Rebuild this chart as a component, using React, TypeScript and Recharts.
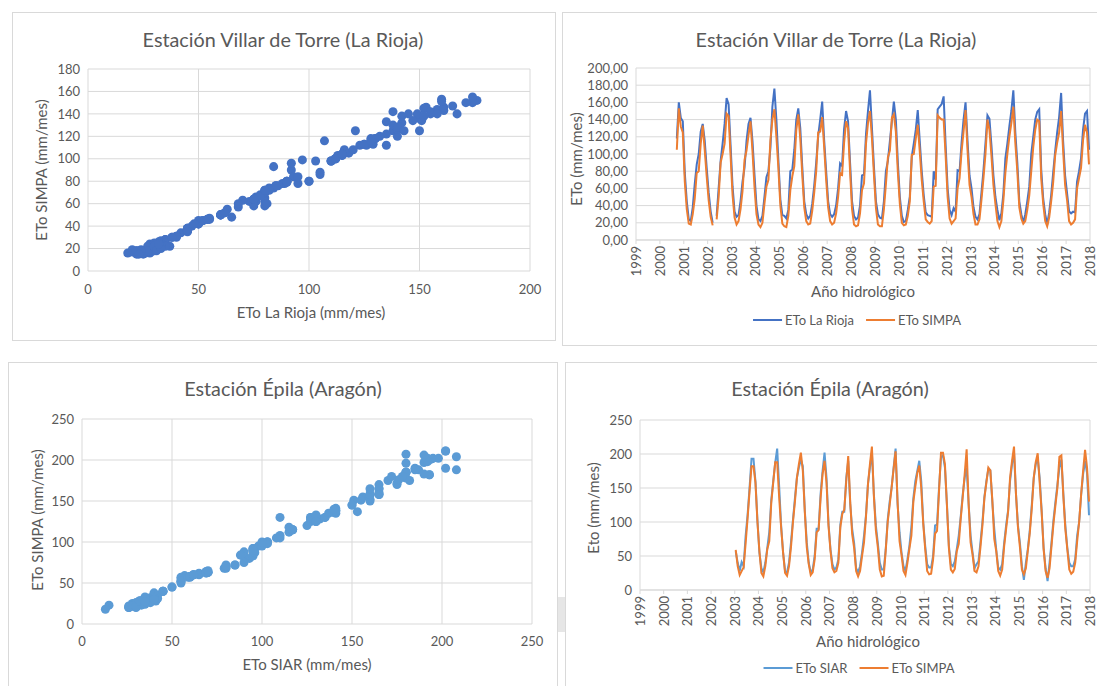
import React from 'react';
import {
  ScatterChart,
  Scatter,
  LineChart,
  Line,
  XAxis,
  YAxis,
  ZAxis,
  CartesianGrid,
  ReferenceLine,
} from 'recharts';

const FONT = 'Lato, "Open Sans", "DejaVu Sans", sans-serif';
const TEXT = '#595959';
const GRID = '#d9d9d9';
const BLUE_DARK = '#4472C4';
const BLUE_LIGHT = '#5B9BD5';
const ORANGE = '#ED7D31';

// Hydrological months: 0 = Oct, 1 = Nov, ... 11 = Sep (plotted at mid-month)
const riojaStart = { year: 2000, month: 8 };
// ETo La Rioja (mm/mes), Jun 2000 .. Sep 2017
const etoLaRioja: (number | null)[] = [
  118, 160, 142, 138,
  78, 45, 24, 22, 38, 65, 88, 100, 126, 135, 116, 84,
  55, 33, 20, null, 28, 60, 92, 112, 135, 165, 158, 110,
  62, 33, 27, 29, 45, 68, 84, 115, 135, 142, 115, 76,
  40, 24, 22, 28, 50, 73, 80, 107, 155, 176, 140, 93,
  47, 29, 28, 25, 35, 80, 82, 105, 140, 153, 130, 85,
  45, 30, 25, 28, 42, 63, 90, 121, 140, 161, 116, 80,
  45, 30, 27, 30, 40, 60, 89, 86, 129, 150, 138, 90,
  45, 28, 24, 26, 40, 75, 76, 123, 150, 174, 130, 85,
  45, 30, 26, 25, 45, 80, 92, 115, 138, 161, 140, 90,
  50, 28, 21, 22, 35, 50, 97, 112, 128, 151, 115, 80,
  52, 32, 29, 28, 27, 80, 70, 152, 155, 158, 167, 110,
  60, 35, 29, 37, 33, 81, 80, 113, 140, 160, 115, 75,
  60, 38, 27, 24, 30, 55, 81, 112, 145, 141, 110, 75,
  50, 35, 23, 31, 54, 95, 112, 132, 150, 174, 125, 90,
  45, 30, 20, 30, 45, 62, 100, 120, 140, 149, 152, 82,
  48, 30, 18, 32, 52, 78, 103, 125, 143, 171, 115, 75,
  54, 33, 31, 33, 32, 68, 80, 95, 128, 147, 150, 105,
];
// ETo SIMPA at Villar de Torre (mm/mes), Jun 2000 .. Sep 2017
const etoSimpaRioja: (number | null)[] = [
  105, 153, 132, 125,
  68, 36, 19, 18, 30, 48, 78, 80, 112, 133, 105, 74,
  46, 27, 17, null, 24, 50, 90, 100, 112, 147, 144, 98,
  52, 26, 18, 22, 36, 57, 93, 104, 122, 138, 103, 62,
  30, 18, 15, 20, 42, 62, 70, 116, 140, 152, 120, 84,
  40, 19, 16, 15, 28, 58, 74, 86, 128, 146, 118, 76,
  38, 22, 18, 19, 34, 55, 80, 125, 126, 143, 108, 70,
  38, 22, 18, 20, 31, 50, 78, 76, 113, 138, 130, 80,
  36, 18, 16, 17, 31, 58, 66, 112, 136, 150, 118, 76,
  37, 18, 16, 16, 36, 65, 96, 104, 142, 146, 126, 79,
  42, 20, 17, 18, 28, 45, 99, 100, 118, 134, 103, 70,
  45, 24, 21, 19, 22, 62, 63, 145, 142, 140, 140, 98,
  50, 25, 19, 22, 25, 60, 72, 103, 126, 151, 104, 64,
  50, 30, 18, 18, 24, 47, 72, 100, 140, 128, 98, 64,
  42, 22, 15, 22, 46, 78, 100, 120, 136, 155, 113, 80,
  38, 25, 19, 22, 35, 52, 80, 108, 128, 140, 138, 72,
  42, 22, 16, 26, 45, 67, 98, 113, 125, 150, 104, 64,
  46, 22, 18, 20, 24, 60, 72, 84, 116, 134, 125, 88,
];

const epilaStart = { year: 2003, month: 0 };
// ETo SIAR Épila (mm/mes), Oct 2002 .. Sep 2017
const etoSiar: (number | null)[] = [
  57, 40, 28, 41, 35, 79, 110, 150, 193, 193, 160, 103,
  55, 32, 26, 40, 62, 85, 132, 160, 187, 208, 153, 95,
  55, 28, 26, 40, 70, 103, 135, 165, 180, 192, 182, 117,
  70, 40, 26, 30, 50, 90, 90, 141, 175, 202, 165, 98,
  60, 38, 30, 33, 45, 96, 115, 115, 165, 190, 127, 90,
  69, 32, 26, 35, 55, 80, 110, 156, 180, 202, 141, 95,
  69, 40, 30, 30, 60, 103, 130, 151, 180, 208, 127, 85,
  55, 35, 28, 45, 65, 93, 135, 160, 175, 190, 160, 100,
  65, 38, 33, 33, 50, 95, 96, 150, 195, 198, 180, 127,
  65, 38, 35, 42, 60, 80, 108, 140, 165, 180, 127, 80,
  55, 32, 38, 42, 70, 100, 137, 160, 178, 176, 130, 90,
  59, 33, 30, 38, 69, 95, 117, 160, 185, 202, 141, 95,
  69, 35, 15, 40, 60, 88, 125, 165, 185, 194, 165, 117,
  62, 32, 13, 40, 70, 103, 130, 155, 180, 192, 141, 95,
  62, 40, 35, 35, 45, 80, 100, 140, 170, 190, 172, 110,
];
// ETo SIMPA at Épila (mm/mes), Oct 2002 .. Sep 2017
const etoSimpaEpila: (number | null)[] = [
  59, 35, 22, 28, 33, 68, 105, 145, 182, 182, 158, 100,
  57, 25, 20, 35, 60, 72, 128, 158, 188, 188, 137, 92,
  55, 25, 21, 35, 63, 100, 130, 165, 185, 202, 175, 115,
  63, 38, 22, 26, 45, 85, 88, 135, 170, 190, 158, 95,
  58, 32, 26, 28, 40, 92, 112, 118, 160, 197, 130, 82,
  62, 28, 20, 28, 50, 70, 108, 155, 185, 211, 138, 88,
  63, 30, 20, 21, 58, 100, 125, 151, 178, 204, 130, 72,
  52, 28, 22, 40, 61, 80, 130, 152, 172, 183, 150, 98,
  60, 28, 23, 24, 45, 83, 87, 145, 202, 202, 185, 125,
  62, 30, 26, 31, 57, 68, 105, 136, 170, 207, 127, 70,
  52, 28, 26, 35, 63, 95, 135, 158, 180, 176, 133, 75,
  57, 28, 21, 30, 64, 90, 115, 165, 190, 211, 141, 92,
  63, 30, 23, 32, 58, 84, 120, 165, 188, 201, 158, 115,
  60, 28, 18, 32, 65, 98, 125, 151, 196, 198, 138, 90,
  60, 30, 24, 27, 40, 72, 100, 140, 175, 206, 180, 130,
];

const yearTicks = [1999, 2000, 2001, 2002, 2003, 2004, 2005, 2006, 2007, 2008, 2009, 2010, 2011, 2012, 2013, 2014, 2015, 2016, 2017, 2018];
const riojaScatterXTicks = [0, 50, 100, 150, 200];
const riojaScatterYTicks = [0, 20, 40, 60, 80, 100, 120, 140, 160, 180];
const epilaScatterTicks = [0, 50, 100, 150, 200, 250];
const riojaLineYTicks = [0, 20, 40, 60, 80, 100, 120, 140, 160, 180, 200];
const epilaLineYTicks = [0, 50, 100, 150, 200, 250];

type Start = { year: number; month: number };
const toSeries = (start: Start, a: (number | null)[], b: (number | null)[]) =>
  a.map((v, i) => ({ t: start.year + (start.month + i + 0.5) / 12, a: v, b: b[i] }));
const toPairs = (a: (number | null)[], b: (number | null)[]) =>
  a
    .map((v, i) => ({ x: v, y: b[i] }))
    .filter((p) => p.x != null && p.y != null);

const riojaSeries = toSeries(riojaStart, etoLaRioja, etoSimpaRioja);
const epilaSeries = toSeries(epilaStart, etoSiar, etoSimpaEpila);
const riojaPairs = toPairs(etoLaRioja, etoSimpaRioja);
const epilaPairs = toPairs(etoSiar, etoSimpaEpila);

const TICK_FS = 13;
const tickStyle = { fill: TEXT, fontSize: TICK_FS, fontFamily: FONT };
const comma2 = (v: number) => v.toFixed(2).replace('.', ',');

const RotTick = (props: any) => {
  const { x, y, payload } = props;
  return (
    <text
      x={x}
      y={y}
      transform={`rotate(-90, ${x}, ${y})`}
      textAnchor="end"
      dominantBaseline="central"
      fill={TEXT}
      fontSize={TICK_FS}
      fontFamily={FONT}
    >
      {payload.value}
    </text>
  );
};

const Txt = ({ x, y, size, children, rotate }: any) => (
  <div
    style={{
      position: 'absolute',
      left: x,
      top: y,
      transform: `translate(-50%, -50%)${rotate ? ' rotate(-90deg)' : ''}`,
      whiteSpace: 'nowrap',
      fontSize: size,
      color: TEXT,
      fontFamily: FONT,
      lineHeight: 1,
    }}
  >
    {children}
  </div>
);

const Box = ({ x, y, w, h }: any) => (
  <div
    style={{
      position: 'absolute',
      left: x,
      top: y,
      width: w,
      height: h,
      border: `1px solid ${GRID}`,
      boxSizing: 'border-box',
      background: '#fff',
    }}
  />
);

const LegendItem = ({ color, label }: any) => (
  <div style={{ display: 'flex', alignItems: 'center', marginRight: 12 }}>
    <div style={{ width: 29, height: 2, background: color, marginRight: 3 }} />
    <span style={{ fontSize: 13, color: TEXT, fontFamily: FONT }}>{label}</span>
  </div>
);

const Legend2 = ({ x, y, items }: any) => (
  <div
    style={{
      position: 'absolute',
      left: x,
      top: y,
      transform: 'translate(-50%, -50%)',
      display: 'flex',
      whiteSpace: 'nowrap',
    }}
  >
    {items.map((it: any) => (
      <LegendItem key={it.label} color={it.color} label={it.label} />
    ))}
  </div>
);

export default function App() {
  return (
    <div
      style={{
        position: 'absolute',
        left: 0,
        top: 0,
        width: 1097,
        height: 686,
        background: '#fff',
        overflow: 'hidden',
        fontFamily: FONT,
      }}
    >
      <Box x={12} y={12} w={544} h={329} />
      <Box x={562} y={12} w={545} h={334} />
      <Box x={8} y={362} w={550} h={340} />
      <Box x={565} y={362} w={545} h={340} />
      <div style={{ position: 'absolute', left: 558, top: 597, width: 7, height: 35, background: '#e6e6e6' }} />

      {/* Top-left scatter */}
      <div style={{ position: 'absolute', left: 12, top: 12 }}>
        <ScatterChart width={543} height={328} margin={{ top: 57, right: 25, bottom: 29, left: 0 }}>
          <CartesianGrid stroke={GRID} strokeWidth={1} />
          <XAxis
            type="number"
            dataKey="x"
            domain={[0, 200]}
            ticks={riojaScatterXTicks}
            axisLine={false}
            tickLine={false}
            tickSize={0}
            tickMargin={14}
            height={40}
            tick={tickStyle}
            interval={0}
          />
          <YAxis
            type="number"
            dataKey="y"
            domain={[0, 180]}
            ticks={riojaScatterYTicks}
            axisLine={false}
            tickLine={false}
            tickSize={0}
            tickMargin={8}
            width={76}
            tick={tickStyle}
            interval={0}
          />
          <ZAxis range={[80, 80]} />
          <Scatter data={riojaPairs} fill={BLUE_DARK} isAnimationActive={false} />
        </ScatterChart>
      </div>

      {/* Top-right line chart */}
      <div style={{ position: 'absolute', left: 562, top: 12 }}>
        <LineChart width={535} height={333} data={riojaSeries} margin={{ top: 56, right: 7, bottom: 45, left: 0 }}>
          <CartesianGrid stroke={GRID} vertical={false} />
          <ReferenceLine x={1999} stroke={GRID} />
          <ReferenceLine x={2018} stroke={GRID} />
          <XAxis
            type="number"
            dataKey="t"
            domain={[1999, 2018]}
            ticks={yearTicks}
            interval={0}
            axisLine={{ stroke: GRID }}
            tickLine={{ stroke: GRID }}
            tickSize={4}
            tickMargin={2}
            height={60}
            tick={<RotTick />}
          />
          <YAxis
            type="number"
            domain={[0, 200]}
            ticks={riojaLineYTicks}
            interval={0}
            axisLine={false}
            tickLine={false}
            tickSize={0}
            tickMargin={8}
            width={74}
            tick={tickStyle}
            tickFormatter={comma2}
          />
          <Line dataKey="a" stroke={BLUE_DARK} strokeWidth={2} dot={false} isAnimationActive={false} />
          <Line dataKey="b" stroke={ORANGE} strokeWidth={2} dot={false} isAnimationActive={false} />
        </LineChart>
      </div>

      {/* Bottom-left scatter */}
      <div style={{ position: 'absolute', left: 8, top: 362 }}>
        <ScatterChart width={549} height={324} margin={{ top: 57, right: 25, bottom: 32, left: 0 }}>
          <CartesianGrid stroke={GRID} strokeWidth={1} />
          <XAxis
            type="number"
            dataKey="x"
            domain={[0, 250]}
            ticks={epilaScatterTicks}
            axisLine={false}
            tickLine={false}
            tickSize={0}
            tickMargin={13}
            height={30}
            tick={tickStyle}
            interval={0}
          />
          <YAxis
            type="number"
            dataKey="y"
            domain={[0, 250]}
            ticks={epilaScatterTicks}
            axisLine={false}
            tickLine={false}
            tickSize={0}
            tickMargin={8}
            width={74}
            tick={tickStyle}
            interval={0}
          />
          <ZAxis range={[80, 80]} />
          <Scatter data={epilaPairs} fill={BLUE_LIGHT} isAnimationActive={false} />
        </ScatterChart>
      </div>

      {/* Bottom-right line chart */}
      <div style={{ position: 'absolute', left: 565, top: 362 }}>
        <LineChart width={532} height={324} data={epilaSeries} margin={{ top: 58, right: 7, bottom: 36, left: 0 }}>
          <CartesianGrid stroke={GRID} vertical={false} />
          <ReferenceLine x={1999} stroke={GRID} />
          <ReferenceLine x={2018} stroke={GRID} />
          <XAxis
            type="number"
            dataKey="t"
            domain={[1999, 2018]}
            ticks={yearTicks}
            interval={0}
            axisLine={{ stroke: GRID }}
            tickLine={{ stroke: GRID }}
            tickSize={4}
            tickMargin={2}
            height={60}
            tick={<RotTick />}
          />
          <YAxis
            type="number"
            domain={[0, 250]}
            ticks={epilaLineYTicks}
            interval={0}
            axisLine={false}
            tickLine={false}
            tickSize={0}
            tickMargin={8}
            width={75}
            tick={tickStyle}
          />
          <Line dataKey="a" stroke={BLUE_LIGHT} strokeWidth={2} dot={false} isAnimationActive={false} />
          <Line dataKey="b" stroke={ORANGE} strokeWidth={2} dot={false} isAnimationActive={false} />
        </LineChart>
      </div>

      {/* Titles and axis titles */}
      <Txt x={283} y={40} size={19.8}>Estación Villar de Torre (La Rioja)</Txt>
      <Txt x={311} y={312} size={15}>ETo La Rioja (mm/mes)</Txt>
      <Txt x={41} y={170} size={15} rotate>ETo SIMPA (mm/mes)</Txt>

      <Txt x={836} y={40} size={19.8}>Estación Villar de Torre (La Rioja)</Txt>
      <Txt x={576} y={159} size={15} rotate>ETo (mm/mes)</Txt>
      <Txt x={863} y={291} size={15}>Año hidrológico</Txt>
      <Legend2
        x={863}
        y={320}
        items={[
          { color: BLUE_DARK, label: 'ETo La Rioja' },
          { color: ORANGE, label: 'ETo SIMPA' },
        ]}
      />

      <Txt x={283} y={389} size={19.8}>Estación Épila (Aragón)</Txt>
      <Txt x={307} y={664} size={15}>ETo SIAR (mm/mes)</Txt>
      <Txt x={37} y={520} size={15} rotate>ETo SIMPA (mm/mes)</Txt>

      <Txt x={830} y={389} size={19.8}>Estación Épila (Aragón)</Txt>
      <Txt x={593} y={508} size={15} rotate>Eto (mm/mes)</Txt>
      <Txt x={868} y={641} size={15}>Año hidrológico</Txt>
      <Legend2
        x={865}
        y={668}
        items={[
          { color: BLUE_LIGHT, label: 'ETo SIAR' },
          { color: ORANGE, label: 'ETo SIMPA' },
        ]}
      />
    </div>
  );
}
